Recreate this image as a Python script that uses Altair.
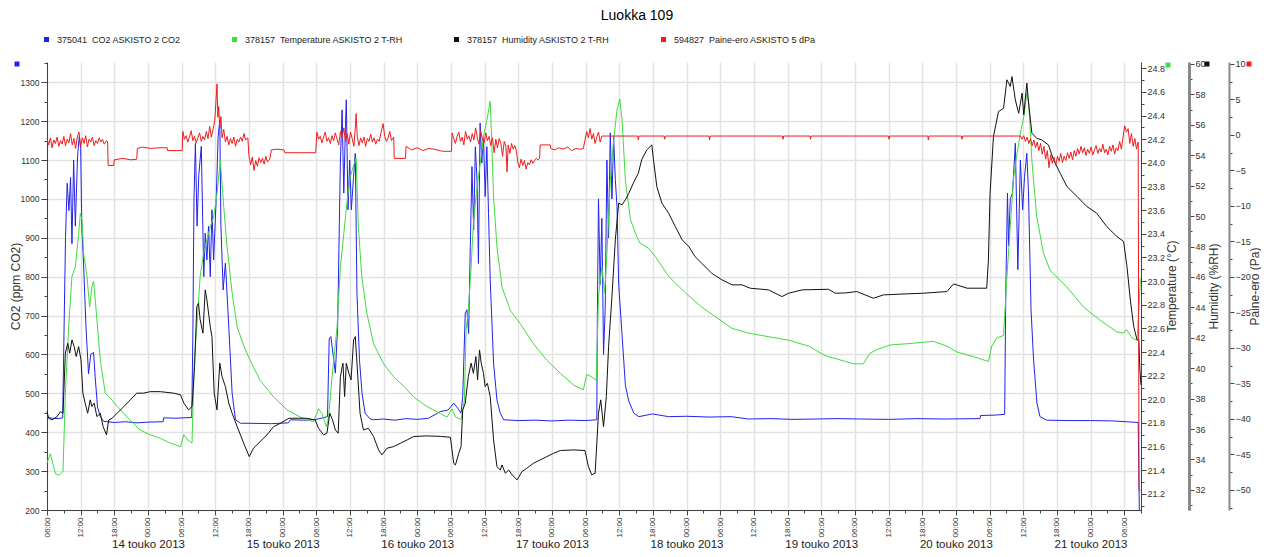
import altair as alt
import pandas as pd

FONT = "Liberation Sans"
title_text = "Luokka 109"
series_names = [
    "375041\u00a0\u00a0CO2 ASKISTO 2 CO2",
    "378157\u00a0\u00a0Temperature ASKISTO 2 T-RH",
    "378157\u00a0\u00a0Humidity ASKISTO 2 T-RH",
    "594827\u00a0\u00a0Paine-ero ASKISTO 5 dPa",
]
series_colors = ["#2222ee", "#3fdc3f", "#111111", "#ee1c1c"]
axis_titles = ["CO2 (ppm CO2)", "Temperature (°C)", "Humidity (%RH)", "Paine-ero (Pa)"]
start_time = "2013-05-13 06:00"
date_label_format = "%-d touko %Y"
hour_label_format = "%H:%M"

# (hours since 13.5.2013 06:00, value)
co2_points = [
    (0, 438), (1, 436), (2, 435), (2.8, 437), (3.0, 630), (3.3, 900), (3.6, 1040), (3.9, 970),
    (4.2, 1055), (4.45, 885), (4.75, 1100), (5.05, 930), (5.45, 1110), (5.75, 1160), (6.0, 1130),
    (6.2, 930), (6.5, 840), (6.95, 670), (7.4, 550), (7.8, 600), (8.3, 605), (8.6, 540), (9.0, 465),
    (9.5, 440), (10.1, 428), (12, 425), (14, 427), (16, 424), (18, 426), (20.7, 427), (20.8, 437),
    (23, 436), (25.8, 438), (26.0, 650), (26.2, 1000), (26.45, 1143), (26.75, 930), (27.05, 1060),
    (27.5, 1135), (27.95, 800), (28.2, 912), (28.5, 843), (28.8, 930), (29.1, 800), (29.4, 972),
    (29.7, 843), (30.2, 1015), (30.5, 1160), (30.8, 1203), (31.0, 930), (31.4, 766), (31.8, 835),
    (32.4, 672), (33.0, 500), (33.6, 432), (34.5, 423), (36, 423), (40, 422), (43, 424), (43.4, 432),
    (46, 431), (48, 433), (50.0, 440), (50.3, 640), (50.6, 646), (51.4, 552), (51.8, 672),
    (52.3, 1100), (52.6, 1229), (52.9, 1015), (53.2, 1186), (53.35, 1255), (53.65, 972),
    (53.95, 1100), (54.25, 972), (54.65, 1058), (54.95, 1117), (55.25, 757), (55.7, 586),
    (56.15, 500), (56.7, 449), (57.6, 434), (58.2, 432), (60, 434), (62, 431), (64, 435), (66, 433),
    (68, 436), (69.5, 448), (70.1, 453), (71.5, 457), (72.5, 475), (73.2, 462), (73.8, 449),
    (74.1, 492), (74.55, 706), (74.85, 715), (75.15, 654), (75.45, 877), (75.75, 1083),
    (76.05, 920), (76.35, 1134), (76.65, 1049), (76.9, 834), (77.2, 1195), (77.5, 1092),
    (77.8, 1160), (78.1, 1006), (78.4, 1134), (78.7, 963), (79.0, 792), (79.6, 578), (80.2, 483),
    (80.8, 449), (81.4, 432), (84, 430), (87, 431), (90, 429), (93, 431), (96, 430), (98.0, 432),
    (98.1, 700), (98.3, 1000), (98.6, 780), (98.9, 950), (99.2, 600), (99.5, 720), (99.8, 1100),
    (100.1, 900), (100.4, 1170), (100.7, 1000), (101.0, 1160), (101.3, 1050), (101.6, 980),
    (101.9, 780), (102.5, 650), (103.1, 520), (103.7, 480), (104.6, 449), (105.5, 440),
    (107.9, 447), (110.8, 440), (114, 441), (118, 439), (122, 440), (125, 434), (129, 435),
    (133, 433), (137, 434), (141, 435), (145, 434), (150, 433), (155, 435), (160, 434),
    (166.3, 435), (166.4, 443), (169, 444), (170.7, 446), (170.9, 760), (171.2, 1015),
    (171.4, 880), (171.7, 1000), (172.1, 1015), (172.6, 1143), (173.05, 818), (173.5, 1100),
    (173.9, 972), (174.25, 1058), (174.65, 1117), (174.95, 1015), (175.4, 715), (175.85, 586),
    (176.45, 475), (177.0, 440), (178.2, 431), (182, 430), (186, 430), (190, 429), (194.5, 425),
    (194.7, 200),
]

temp_points = [
    (0, 21.46), (0.6, 21.54), (1.5, 21.37), (2.2, 21.36), (2.85, 21.39), (3.27, 22.05),
    (3.86, 22.61), (4.45, 23.04), (5.05, 23.12), (5.64, 23.40), (5.94, 23.57), (6.24, 23.52),
    (6.54, 23.23), (7.13, 23.04), (7.6, 22.78), (8.0, 22.95), (8.3, 23.0), (8.8, 22.73),
    (9.5, 22.33), (10.4, 22.05), (11.3, 22.01), (12.5, 21.94), (14.3, 21.85), (16.6, 21.74),
    (18.4, 21.70), (20.2, 21.67), (22, 21.63), (23.8, 21.6), (24.4, 21.70), (25, 21.66),
    (25.85, 21.63), (26.26, 22.33), (26.7, 22.61), (27.3, 23.04), (27.9, 23.23), (28.5, 23.35),
    (29.1, 23.46), (29.7, 23.54), (30.3, 23.74), (30.9, 24.02), (31.5, 23.63), (32.1, 23.29),
    (33, 22.9), (33.9, 22.61), (35.1, 22.45), (36.2, 22.33), (38, 22.16), (40.4, 22.02),
    (42.8, 21.91), (45.15, 21.85), (47.5, 21.81), (48.4, 21.92), (49.0, 21.88), (49.8, 21.77),
    (50.2, 21.85), (50.8, 22.19), (51.7, 22.61), (52.3, 23.12), (52.9, 23.40), (53.5, 23.68),
    (54.05, 23.88), (54.6, 23.97), (55.1, 24.04), (55.5, 23.46), (56.1, 23.04), (57.0, 22.73),
    (58.2, 22.47), (60, 22.30), (61.8, 22.19), (63.6, 22.11), (65.35, 22.02), (67.7, 21.94),
    (70.1, 21.88), (71.3, 21.85), (72.2, 21.92), (72.8, 21.85), (73.8, 21.83), (74.4, 21.99),
    (74.7, 22.59), (75.1, 22.75), (75.6, 23.12), (76.0, 23.49), (76.6, 23.77), (77.2, 23.99),
    (77.8, 24.22), (78.4, 24.36), (79.0, 24.52), (79.3, 24.14), (79.6, 23.71), (80.2, 23.29),
    (81.1, 22.95), (82.6, 22.75), (84.35, 22.64), (86.7, 22.47), (89.1, 22.33), (91.5, 22.22),
    (93.9, 22.12), (95.6, 22.08), (96.2, 22.21), (97.1, 22.19), (97.9, 22.16), (98.3, 22.87),
    (98.9, 23.12), (99.4, 22.9), (99.8, 23.23), (100.4, 23.85), (101.0, 24.19), (101.6, 24.45),
    (102.1, 24.54), (102.5, 24.36), (103.1, 23.85), (104.0, 23.52), (105.1, 23.38), (105.7, 23.32),
    (107.2, 23.28), (108.4, 23.21), (110.8, 23.04), (113.8, 22.9), (116.7, 22.78), (119.7, 22.68),
    (122.1, 22.6), (125.05, 22.56), (128.6, 22.53), (132.2, 22.5), (135.75, 22.45), (138.7, 22.37),
    (142.3, 22.32), (143.8, 22.30), (145.5, 22.3), (146.7, 22.39), (147.9, 22.42), (150.3, 22.46),
    (153.3, 22.47), (158, 22.49), (160.4, 22.45), (162.2, 22.4), (165.2, 22.36), (167.8, 22.32),
    (168.4, 22.45), (169.3, 22.52), (170.5, 22.54), (171.1, 23.04), (171.7, 23.46), (172.3, 23.88),
    (172.9, 24.08), (173.5, 24.25), (174.1, 24.39), (174.65, 24.59), (175.0, 24.5), (175.55, 24.02),
    (176.4, 23.55), (177.6, 23.24), (178.8, 23.09), (181.8, 22.95), (184.75, 22.78), (187.7, 22.67),
    (190.7, 22.57), (191.9, 22.56), (192.4, 22.59), (193.4, 22.52), (194.3, 22.5), (194.9, 23.02),
]

hum_points = [
    (0, 37.15), (0.3, 36.71), (0.9, 36.6), (1.8, 36.82), (2.4, 37.15), (2.85, 37.04), (3.27, 40.99),
    (3.7, 41.64), (4.05, 40.99), (4.45, 41.86), (4.85, 41.42), (5.2, 40.77), (5.64, 41.42),
    (6.06, 40.55), (6.4, 38.36), (6.8, 37.7), (7.25, 37.04), (7.7, 37.92), (8.0, 37.48), (8.4, 37.7),
    (8.9, 36.82), (9.5, 37.04), (10.0, 36.16), (10.6, 35.62), (11.0, 36.6), (11.6, 36.71),
    (12.5, 37.04), (13.7, 37.48), (14.85, 37.92), (16.0, 38.36), (17.2, 38.36), (18.4, 38.46),
    (20.2, 38.46), (22.6, 38.36), (23.8, 38.25), (24.4, 37.7), (25.25, 37.26), (25.85, 37.48),
    (26.3, 40.11), (26.7, 44.05), (27.0, 44.27), (27.3, 43.18), (27.8, 42.3), (28.2, 45.15),
    (28.5, 44.49), (29.1, 42.74), (29.4, 42.08), (29.8, 38.36), (30.3, 37.26), (30.8, 40.33),
    (31.2, 39.45), (31.8, 38.79), (32.4, 37.7), (33.0, 37.04), (33.9, 36.16), (34.5, 35.6),
    (35.3, 34.85), (36.05, 34.19), (36.8, 34.74), (38.0, 35.18), (39.2, 35.62), (40.4, 36.16),
    (41.6, 36.38), (43.1, 36.71), (44.55, 36.71), (46.3, 36.71), (47.8, 36.6), (48.4, 36.05),
    (49.3, 35.62), (49.9, 35.73), (50.4, 37.04), (50.9, 36.6), (51.4, 35.94), (51.9, 35.73),
    (52.3, 39.45), (52.75, 40.33), (53.05, 38.14), (53.35, 40.33), (53.8, 39.67), (54.2, 39.23),
    (54.65, 41.86), (54.95, 42.08), (55.4, 39.45), (55.8, 37.04), (56.4, 35.94), (57.3, 36.05),
    (58.2, 35.51), (59.1, 34.63), (59.7, 34.3), (60.6, 34.74), (61.8, 34.85), (63.0, 35.07),
    (64.2, 35.29), (65.35, 35.51), (67.7, 35.55), (70.1, 35.52), (71.9, 35.46), (72.5, 33.75),
    (72.8, 33.64), (73.4, 34.41), (73.8, 34.85), (74.1, 37.26), (74.55, 37.7), (75.1, 39.45),
    (75.6, 40.33), (76.0, 39.67), (76.45, 40.77), (76.75, 39.23), (77.1, 41.2), (77.4, 40.33),
    (77.8, 39.67), (78.1, 38.79), (78.5, 39.01), (79.0, 38.14), (79.6, 35.29), (80.2, 33.53),
    (80.8, 33.31), (81.1, 33.64), (81.7, 33.1), (82.3, 33.31), (82.9, 32.99), (83.8, 32.66),
    (84.65, 33.2), (85.5, 33.42), (86.7, 33.75), (87.9, 33.97), (89.1, 34.19), (90.3, 34.41),
    (91.5, 34.59), (93.9, 34.63), (95.9, 34.59), (96.5, 33.53), (97.1, 32.99), (97.7, 33.1),
    (98.3, 37.04), (98.7, 37.92), (99.2, 36.16), (99.7, 38.14), (100.1, 41.42), (100.7, 44.71),
    (101.3, 48.44), (101.9, 50.85), (102.5, 50.74), (103.1, 51.07), (103.7, 51.5), (104.55, 52.2),
    (105.4, 52.82), (106.0, 53.7), (106.9, 54.35), (107.8, 54.68), (108.1, 53.7), (108.7, 51.94),
    (109.6, 50.85), (110.8, 50.19), (112, 49.31), (113.2, 48.44), (114.4, 48.0), (115.5, 47.34),
    (116.7, 46.9), (118.5, 46.24), (120.3, 45.81), (122.1, 45.48), (123.9, 45.48), (125.35, 45.26),
    (128.6, 45.15), (131, 44.71), (132.2, 44.93), (134.6, 45.15), (139.3, 45.19), (140.5, 44.93),
    (142.3, 44.95), (144.35, 45.04), (147.3, 44.6), (149.1, 44.82), (153.3, 44.89), (156.2, 44.93),
    (160.4, 45.04), (161.6, 45.54), (164, 45.26), (167.5, 45.26), (167.8, 47.12), (168.1, 51.5),
    (168.7, 55.23), (169.6, 56.87), (170.5, 57.09), (171.1, 58.96), (171.7, 58.52), (172.0, 59.17),
    (172.6, 57.64), (173.2, 56.76), (173.8, 58.08), (174.1, 56.66), (174.65, 58.74), (175.0, 57.3),
    (175.55, 55.45), (176.4, 55.12), (177.3, 55.01), (178.5, 54.68), (179.4, 53.7), (180.6, 52.82),
    (181.8, 51.94), (183.6, 51.29), (185.35, 50.63), (187.1, 50.19), (188.9, 49.31), (190.7, 48.66),
    (191.9, 48.33), (192.5, 46.68), (193.1, 44.49), (193.7, 42.74), (194.3, 41.86), (194.6, 41.86),
    (194.8, 39.89), (195.0, 38.9),
]

pa_points = [
    (0, -0.5), (0.3, -1.4), (0.6, -0.4), (0.9, -1.8), (1.2, -0.7), (1.5, -1.2), (1.8, -0.3),
    (2.1, -1.6), (2.4, -0.8), (2.7, -1.3), (3.0, -0.2), (3.3, -1.5), (3.6, -0.6), (3.9, -1.1),
    (4.2, 0.2), (4.5, -1.4), (4.8, -0.5), (5.1, -1.9), (5.4, -0.3), (5.7, 0.4), (6.0, -1.6),
    (6.3, -0.4), (6.6, -1.2), (6.9, -0.1), (7.2, -1.7), (7.5, -0.6), (7.8, -1.0), (8.1, -0.3),
    (8.4, -1.5), (8.7, -0.8), (9.0, -1.2), (9.3, -0.4), (9.6, -1.0), (9.9, -0.6), (10.2, -1.3),
    (10.6, -0.8), (10.8, -1.0), (10.9, -4.3), (11.9, -4.3), (12.0, -3.5), (13.5, -3.3), (15, -3.5),
    (16.0, -3.4), (16.1, -1.9), (17, -1.7), (18.5, -1.9), (20, -1.8), (21.4, -1.8), (21.5, -2.2),
    (24.1, -2.2), (24.2, 0.5), (24.5, -0.6), (24.8, -0.1), (25.1, -1.0), (25.4, -0.3), (25.7, 0.6),
    (26.0, -0.8), (26.3, -0.2), (26.6, -1.1), (26.9, -0.4), (27.2, 0.3), (27.5, -0.9), (27.8, -0.2),
    (28.1, -0.7), (28.4, 0.5), (28.7, -0.5), (29.0, 1.2), (29.3, -0.3), (29.6, 0.8), (29.9, 2.0),
    (30.1, 4.5), (30.3, 7.2), (30.45, 2.5), (30.6, 4.0), (30.8, 1.0), (31.0, 2.6), (31.2, -0.4),
    (31.5, 0.8), (31.8, -1.0), (32.1, -0.2), (32.4, -1.4), (32.7, -0.5), (33.0, -1.2), (33.3, -0.3),
    (33.6, -1.6), (33.9, -0.6), (34.2, -1.0), (34.5, -0.3), (34.8, -0.9), (35.1, 0.2), (35.4, -0.7),
    (35.8, -0.4), (36.0, -3.0), (36.3, -4.2), (36.6, -3.1), (36.9, -5.0), (37.2, -3.6), (37.5, -4.4),
    (37.8, -3.2), (38.1, -3.9), (38.4, -3.3), (38.7, -4.1), (39.0, -3.0), (39.3, -3.8), (39.7, -3.4),
    (40.0, -2.1), (41, -2.0), (42.2, -2.1), (42.4, -2.5), (45, -2.5), (47.9, -2.5), (48.1, 0.4),
    (48.4, -0.6), (48.7, -0.2), (49.0, -1.1), (49.3, -0.3), (49.6, 0.4), (49.9, -0.9), (50.2, -0.4),
    (50.5, -1.2), (50.8, -0.1), (51.1, -0.8), (51.4, 0.3), (51.7, -0.6), (52.0, -1.4), (52.3, 0.5),
    (52.6, -0.3), (52.9, 1.0), (53.2, -0.9), (53.5, 0.2), (53.8, -1.3), (54.1, 0.4), (54.4, -0.5),
    (54.7, -1.6), (55.0, 1.5), (55.1, 3.0), (55.3, -0.2), (55.6, -1.5), (55.9, -0.4), (56.2, -1.1),
    (56.5, -0.3), (56.8, -1.6), (57.1, -0.5), (57.4, -0.9), (57.7, 0.1), (58.0, -1.0), (58.3, -0.4),
    (58.6, -1.3), (58.9, -0.6), (59.2, -0.9), (59.5, 0.2), (59.9, 1.6), (60.2, -0.2), (60.5, -0.9),
    (60.8, -0.4), (61.1, 0.5), (61.4, -0.8), (61.8, -0.3), (61.9, -3.3), (63.9, -3.3), (64.0, -1.6),
    (65, -2.1), (66, -1.8), (67, -2.2), (68, -1.9), (69, -2.0), (70.5, -2.3), (72.1, -2.3),
    (72.2, 0.3), (72.5, -0.5), (72.8, -1.2), (73.1, -0.2), (73.4, 0.4), (73.7, -0.9), (74.0, -0.3),
    (74.3, -1.4), (74.6, 0.5), (74.9, -0.6), (75.2, -0.1), (75.5, -1.0), (75.8, 0.2), (76.1, -0.7),
    (76.4, 1.0), (76.7, -0.4), (77.0, -1.3), (77.3, 0.6), (77.6, -0.5), (77.9, -1.1), (78.2, 0.3),
    (78.5, -0.8), (78.8, -0.2), (79.1, -1.5), (79.4, -0.4), (79.7, -2.5), (80.0, -0.6), (80.3, -1.8),
    (80.6, -0.5), (80.9, -1.2), (81.2, -3.0), (81.5, -0.9), (81.8, -1.6), (82.0, -5.2), (82.2, -1.4),
    (82.5, -2.6), (82.8, -1.2), (83.1, -2.0), (83.4, -1.5), (83.7, -2.4), (83.9, -3.8), (84.2, -4.6),
    (84.5, -3.4), (84.8, -4.3), (85.1, -3.6), (85.4, -4.8), (85.7, -3.9), (86.0, -4.2), (86.3, -3.5),
    (86.6, -4.0), (86.9, -3.6), (87.2, -3.3), (87.5, -3.5), (87.8, -3.3), (87.9, -1.4), (89.7, -1.4),
    (89.8, -1.9), (90.5, -2.1), (91.2, -1.8), (92, -2.0), (92.8, -1.7), (93.5, -2.2), (94.3, -1.9),
    (95.0, -2.0), (95.6, -1.9), (96.2, 0.5), (96.5, -0.4), (96.8, 0.9), (97.1, -0.6), (97.4, 0.2),
    (97.7, -1.2), (98.0, -0.3), (98.3, 0.4), (98.6, -1.0), (98.9, -0.15), (105.3, -0.15),
    (105.4, -0.7), (105.5, -0.15), (110.0, -0.15), (110.1, -0.6), (110.2, -0.15), (118.0, -0.15),
    (118.1, -0.7), (118.2, -0.15), (131.1, -0.15), (131.2, -0.6), (131.3, -0.15), (136.0, -0.15),
    (136.1, -0.6), (136.2, -0.15), (150.0, -0.15), (150.1, -0.6), (150.2, -0.15), (157.0, -0.15),
    (157.1, -0.7), (157.2, -0.15), (163.0, -0.15), (163.1, -0.6), (163.2, -0.15), (173.5, -0.15),
    (173.8, -0.6), (174.1, -0.1), (174.4, -0.9), (174.7, -0.3), (175.0, -1.2), (175.3, -0.5),
    (175.6, -1.5), (175.9, -0.7), (176.2, -1.8), (176.5, -1.0), (176.8, -2.2), (177.1, -1.2),
    (177.4, -2.7), (177.7, -1.6), (178.0, -3.4), (178.3, -2.2), (178.6, -4.6), (178.9, -2.8),
    (179.2, -4.0), (179.5, -3.1), (179.8, -4.3), (180.1, -3.0), (180.4, -3.7), (180.7, -2.6),
    (181.0, -3.9), (181.3, -3.0), (181.6, -3.6), (181.9, -2.5), (182.2, -3.3), (182.5, -2.4),
    (182.8, -3.5), (183.1, -2.2), (183.4, -3.0), (183.7, -1.9), (184.0, -2.7), (184.3, -1.6),
    (184.6, -2.5), (184.9, -1.8), (185.2, -2.9), (185.5, -2.0), (185.8, -2.6), (186.1, -1.7),
    (186.4, -2.8), (186.7, -2.1), (187.0, -1.5), (187.3, -2.6), (187.6, -1.9), (187.9, -2.4),
    (188.2, -1.3), (188.5, -2.5), (188.8, -2.0), (189.1, -2.8), (189.4, -1.6), (189.7, -2.3),
    (190.0, -1.4), (190.3, -2.7), (190.6, -1.8), (190.9, -2.2), (191.2, -0.9), (191.5, -2.0),
    (191.8, -0.3), (192.1, 1.3), (192.4, 0.4), (192.7, 0.9), (193.0, -1.2), (193.3, 0.2),
    (193.6, -1.6), (193.9, -0.5), (194.2, -2.0), (194.5, -1.0), (194.65, -50), (194.9, -50),
]

# axis ranges
x_end_hours = 195
co2_domain = [200, 1352]
temp_domain = [21.064, 24.853]
hum_domain = [30.68, 60.13]
pa_domain = [-52.83, 10.28]

t0 = pd.Timestamp(start_time)


def frame(points, name):
    return pd.DataFrame({
        "t": [t0 + pd.Timedelta(hours=h) for h, _ in points],
        "v": [v for _, v in points],
        "s": name,
    })


def dt(ts):
    return alt.DateTime(year=ts.year, month=ts.month, date=ts.day, hours=ts.hour)


t_end = t0 + pd.Timedelta(hours=x_end_hours)
xscale = alt.Scale(domain=[dt(t0), dt(t_end)])
hour_ticks = [dt(t0 + pd.Timedelta(hours=6 * i)) for i in range(33)]
minor_ticks = [dt(t0 + pd.Timedelta(hours=3 * i)) for i in range(66)]
day_ticks = [alt.DateTime(year=2013, month=5, date=d) for d in range(14, 22)]

LBL = "#333333"
AX = "#444444"
GRID = "#e2e2e2"

color_enc = alt.Color(
    "s:N",
    scale=alt.Scale(domain=series_names, range=series_colors),
    legend=alt.Legend(
        orient="none", legendX=-5, legendY=-27, direction="horizontal", columns=4,
        title=None, symbolType="square", symbolSize=6, symbolStrokeWidth=2.6,
        labelFontSize=9, labelFont=FONT, labelColor="#222222", columnPadding=47,
        labelOffset=6, symbolOpacity=1,
    ),
)


def cond(test, a, b):
    return {"condition": {"test": test, "value": a}, "value": b}


x_hours = alt.X(
    "t:T", scale=xscale,
    axis=alt.Axis(
        orient="bottom", values=hour_ticks, format=hour_label_format, labelAngle=270,
        labelFontSize=8, labelColor=LBL, labelFont=FONT, labelFlush=False, labelOverlap=False,
        labelPadding=2, tickSize=5, tickColor=AX, domainColor=AX, grid=True, gridColor=GRID,
        gridWidth=1.5, title=None,
    ),
)
x_minor = alt.X(
    "t:T", scale=xscale,
    axis=alt.Axis(orient="bottom", values=minor_ticks, labels=False, tickSize=3, tickColor=AX,
                  domain=False, grid=False, title=None),
)
x_days = alt.X(
    "t:T", scale=xscale,
    axis=alt.Axis(orient="bottom", values=day_ticks, format=date_label_format, ticks=False,
                  domain=False, grid=False, labelFontSize=11.5, labelFont=FONT,
                  labelColor="#222222", labelPadding=28, labelFlush=False, labelOverlap=False,
                  labelBaseline="top", title=None),
)
x_none = alt.X("t:T", scale=xscale, axis=None)

co2_axis = alt.Axis(
    orient="left", values=list(range(200, 1351, 50)), format="d",
    labelExpr="datum.value % 100 == 0 ? datum.label : ''",
    tickSize=cond("datum.value % 100 == 0", 6, 3), tickColor=AX, domainColor=AX,
    grid=True, gridColor=GRID, gridWidth=1.5,
    gridOpacity=cond("datum.value % 100 == 0", 1, 0),
    labelFontSize=8.5, labelFont=FONT, labelColor=LBL, labelPadding=2,
    title=axis_titles[0], titleFont=FONT, titleFontSize=12, titleFontWeight="normal",
    titleColor=LBL, titlePadding=-2,
)
temp_axis = alt.Axis(
    orient="right", values=[round(21.1 + 0.1 * i, 1) for i in range(38)],
    labelExpr="round(datum.value*10) % 2 == 0 ? format(datum.value, '.1f') : ''",
    tickSize=cond("round(datum.value*10) % 2 == 0", 5, 3), tickColor=AX, domainColor=AX,
    grid=False, labelFontSize=9, labelFont=FONT, labelColor=LBL, labelPadding=1,
    title=axis_titles[1], titleFont=FONT, titleFontSize=12, titleFontWeight="normal",
    titleColor=LBL, titleAngle=270, titlePadding=14,
)
hum_axis = alt.Axis(
    orient="right", offset=48, values=list(range(31, 61)),
    labelExpr="datum.value % 2 == 0 ? datum.label : ''",
    tickSize=cond("datum.value % 2 == 0", 5, 3), tickColor=AX, domainColor="#8a8a8a",
    domainWidth=3, grid=False, labelFontSize=9, labelFont=FONT, labelColor=LBL, labelPadding=1,
    title=axis_titles[2], titleFont=FONT, titleFontSize=12, titleFontWeight="normal",
    titleColor=LBL, titleAngle=270, titlePadding=15,
)
pa_axis = alt.Axis(
    orient="right", offset=88, values=[-52.5 + 2.5 * i for i in range(26)],
    labelExpr="datum.value % 5 == 0 ? datum.label : ''",
    tickSize=cond("datum.value % 5 == 0", 5, 3), tickColor=AX, domainColor="#8a8a8a",
    domainWidth=2, grid=False, labelFontSize=9, labelFont=FONT, labelColor=LBL, labelPadding=1,
    title=axis_titles[3], titleFont=FONT, titleFontSize=12, titleFontWeight="normal",
    titleColor=LBL, titleAngle=270, titlePadding=11,
)

co2 = alt.Chart(frame(co2_points, series_names[0])).mark_line(strokeWidth=1).encode(
    x=x_hours, y=alt.Y("v:Q", scale=alt.Scale(domain=co2_domain, nice=False), axis=co2_axis),
    color=color_enc)
temp = alt.Chart(frame(temp_points, series_names[1])).mark_line(strokeWidth=1).encode(
    x=x_minor, y=alt.Y("v:Q", scale=alt.Scale(domain=temp_domain, nice=False, zero=False), axis=temp_axis),
    color=color_enc)
hum = alt.Chart(frame(hum_points, series_names[2])).mark_line(strokeWidth=1).encode(
    x=x_days, y=alt.Y("v:Q", scale=alt.Scale(domain=hum_domain, nice=False, zero=False), axis=hum_axis),
    color=color_enc)
pa = alt.Chart(frame(pa_points, series_names[3])).mark_line(strokeWidth=1).encode(
    x=x_none, y=alt.Y("v:Q", scale=alt.Scale(domain=pa_domain, nice=False, zero=False), axis=pa_axis),
    color=color_enc)


def marker(px, py, col):
    return alt.Chart(alt.Data(values=[{}])).mark_square(size=25, color=col, opacity=1).encode(
        x=alt.value(px), y=alt.value(py))


markers = [marker(-30, 2, series_colors[0]), marker(1121, 3, series_colors[1]),
           marker(1160, 2, series_colors[2]), marker(1202, 2, series_colors[3])]

chart = alt.layer(co2, temp, hum, pa, *markers).resolve_scale(
    x="independent", y="independent"
).properties(
    width=1094, height=448,
    title=alt.TitleParams(title_text, font=FONT, fontSize=14, fontWeight="normal", color="#000000",
                          anchor="middle", frame="group", dx=43, offset=12),
    autosize=alt.AutoSizeParams(type="none"),
    padding={"left": 39, "top": 54, "right": 120, "bottom": 39},
).configure_view(stroke=None)

chart.save("out.html", embed_options={"renderer": "svg", "actions": False})
